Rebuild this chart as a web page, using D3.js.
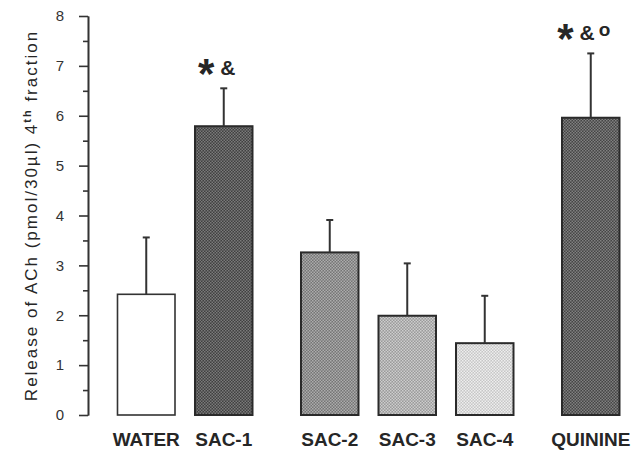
<!DOCTYPE html>
<html>

<head>
    <meta charset="utf-8">
    <script src="https://cdn.jsdelivr.net/npm/d3@7"></script>
    <style>
        body {
            margin: 0;
            background: #fff;
        }

        text {
            font-family: "Liberation Sans", Arial, sans-serif;
            fill: #262626;
        }

        .axis path,
        .axis line {
            stroke: #333;
            stroke-width: 1.6;
        }

        .axis text {
            font-size: 15px;
            fill: #333;
        }
    </style>
</head>

<body>
    <svg id="chart" width="635" height="451"></svg>
    <script>
        // values
        const categories = ["WATER", "SAC-1", "SAC-2", "SAC-3", "SAC-4", "QUININE"];
        const groups = [0, 0, 1, 1, 1, 2];
        const means = [2.42, 5.79, 3.26, 1.99, 1.44, 5.96];
        const errors = [1.14, 0.76, 0.65, 1.05, 0.95, 1.29];
        const marks = ["", "*&", "", "", "", "*&o"];
        const yTicks = [0, 1, 2, 3, 4, 5, 6, 7, 8];
        const yMinorTicks = [0.5, 1.5, 2.5, 3.5, 4.5, 5.5, 6.5, 7.5];

        // grey shades for the dithered fills: [dark, light]
        const shades = [
            ["#ffffff", "#ffffff"],
            ["#404040", "#7a7a7a"],
            ["#757575", "#acacac"],
            ["#9a9a9a", "#cdcdcd"],
            ["#c6c6c6", "#eeeeee"],
            ["#454545", "#808080"]
        ];

        const svg = d3.select("#chart");
        const gap = 28.5;

        const y = d3.scaleLinear().domain([0, 8]).range([415, 16]);
        const x = d3.scaleBand().domain(categories)
            .range([107.5, 572.5])
            .paddingInner(0.258)
            .paddingOuter(0.129);

        const left = (d, i) => x(d) + groups[i] * gap;
        const center = (d, i) => left(d, i) + x.bandwidth() / 2;

        // checker patterns
        const defs = svg.append("defs");
        shades.forEach((s, i) => {
            let p = defs.append("pattern")
                .attr("id", "pat" + i)
                .attr("width", 3).attr("height", 3)
                .attr("patternUnits", "userSpaceOnUse");
            p.append("rect").attr("width", 3).attr("height", 3).attr("fill", s[0]);
            p.append("rect").attr("width", 1.5).attr("height", 1.5).attr("fill", s[1]);
            p.append("rect").attr("x", 1.5).attr("y", 1.5).attr("width", 1.5).attr("height", 1.5).attr("fill", s[1]);
        });

        // y axis
        svg.append("g")
            .attr("class", "axis")
            .attr("transform", "translate(88,0)")
            .call(d3.axisLeft(y).tickValues(yTicks).tickSize(9).tickSizeOuter(0).tickPadding(15).tickFormat(d3.format("d")));

        svg.append("g")
            .attr("class", "axis")
            .attr("transform", "translate(88,0)")
            .call(d3.axisLeft(y).tickValues(yMinorTicks).tickSize(5).tickSizeOuter(0).tickFormat(""));

        // y title
        const title = svg.append("text")
            .attr("transform", "translate(37," + ((y(0) + y(8)) / 2) + ") rotate(-90)")
            .attr("text-anchor", "middle")
            .style("font-size", "17px")
            .style("letter-spacing", "2px");
        title.append("tspan").text("Release of ACh (pmol/30µl) 4");
        title.append("tspan").attr("dy", -6).style("font-size", "11px").style("font-weight", "bold").text("th");
        title.append("tspan").attr("dy", 6).text(" fraction");

        // bars
        svg.append("g").selectAll("rect")
            .data(categories)
            .join("rect")
            .attr("x", (d, i) => left(d, i))
            .attr("y", (d, i) => y(means[i]))
            .attr("width", x.bandwidth())
            .attr("height", (d, i) => y(0) - y(means[i]))
            .attr("fill", (d, i) => "url(#pat" + i + ")")
            .attr("stroke", (d, i) => i == 0 ? "#333" : "#2a2a2a")
            .attr("stroke-width", (d, i) => i == 0 ? 1.6 : 2);

        // error bars (upper only)
        const err = svg.append("g").attr("stroke", "#333").attr("stroke-width", 2);
        categories.forEach((d, i) => {
            let cx = center(d, i);
            err.append("line")
                .attr("x1", cx).attr("x2", cx)
                .attr("y1", y(means[i])).attr("y2", y(means[i] + errors[i]));
            err.append("line")
                .attr("x1", cx - 3.5).attr("x2", cx + 3.5)
                .attr("y1", y(means[i] + errors[i])).attr("y2", y(means[i] + errors[i]));
        });

        // significance marks
        categories.forEach((d, i) => {
            if (!marks[i]) return;
            let t = svg.append("text")
                .attr("x", center(d, i) - 7)
                .attr("y", y(means[i] + errors[i]) - 13)
                .attr("text-anchor", "middle")
                .style("font-weight", "bold");
            marks[i].split("").forEach((c, k) => {
                if (c == "*") {
                    t.append("tspan").attr("dy", 12.5).style("font-size", "42px").text("*");
                } else if (c == "&") {
                    t.append("tspan").attr("dy", -12.5).attr("dx", 6).style("font-size", "21px").text("&");
                } else {
                    t.append("tspan").attr("dy", -4).attr("dx", 4).style("font-size", "19px").text("o");
                }
            });
        });

        // category labels
        svg.append("g").selectAll("text")
            .data(categories)
            .join("text")
            .attr("x", (d, i) => center(d, i))
            .attr("y", 446)
            .attr("text-anchor", "middle")
            .style("font-size", "19px")
            .style("font-weight", "bold")
            .text(d => d);
    </script>
</body>

</html>
